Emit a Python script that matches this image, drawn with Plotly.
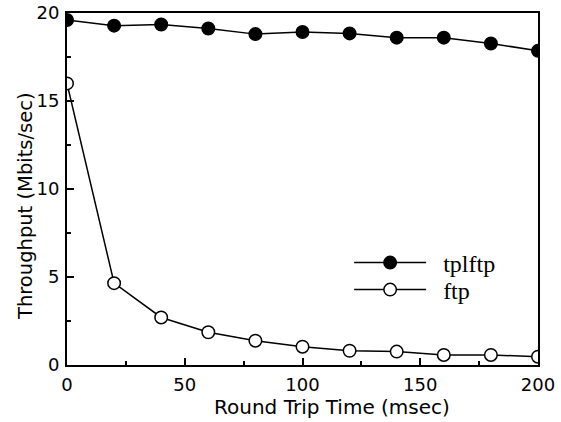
import plotly.graph_objects as go

rtt = [0, 20, 40, 60, 80, 100, 120, 140, 160, 180, 200]
tplftp = [19.6, 19.28, 19.35, 19.12, 18.8, 18.92, 18.84, 18.6, 18.6, 18.27, 17.85]
ftp = [16.0, 4.65, 2.7, 1.86, 1.38, 1.04, 0.81, 0.76, 0.57, 0.57, 0.47]
x_ticks = [0, 50, 100, 150, 200]
y_ticks = [0, 5, 10, 15, 20]

fig = go.Figure()
fig.add_trace(go.Scatter(x=rtt, y=tplftp, name="\u00a0\u00a0tplftp", mode="lines+markers",
                         legend="legend",
                         line=dict(color="black", width=1.5),
                         marker=dict(symbol="circle", size=12.5, color="black",
                                     line=dict(color="black", width=1.5))))
fig.add_trace(go.Scatter(x=rtt, y=ftp, name="\u00a0\u00a0ftp", mode="lines+markers",
                         legend="legend2",
                         line=dict(color="black", width=1.5),
                         marker=dict(symbol="circle", size=12.5, color="white",
                                     line=dict(color="black", width=1.5))))

axis_common = dict(showgrid=False, zeroline=False, showline=True, linecolor="black",
                   linewidth=2, mirror=True, ticks="inside", ticklen=7, tickwidth=1.5,
                   tickcolor="black", automargin=False,
                   tickfont=dict(family="DejaVu Sans", size=18, color="black"))

fig.update_xaxes(range=[0, 200], tickvals=x_ticks, ticklabelstandoff=2,
                 minor=dict(tickvals=[25, 75, 125, 175], ticks="inside", ticklen=4,
                            tickcolor="black", tickwidth=1.5),
                 **axis_common)
fig.update_yaxes(range=[0, 20], tickvals=y_ticks, ticklabelstandoff=2,
                 minor=dict(tickvals=[2.5, 7.5, 12.5, 17.5], ticks="inside", ticklen=4,
                            tickcolor="black", tickwidth=1.5),
                 **axis_common)

fig.add_annotation(text="Round Trip Time (msec)", xref="paper", yref="paper",
                   x=(332 - 67) / 471, y=-(407 - 365) / 352, xanchor="center", yanchor="middle",
                   showarrow=False,
                   font=dict(family="DejaVu Sans", size=20, color="black"))
fig.add_annotation(text="Throughput (Mbits/sec)", xref="paper", yref="paper",
                   x=-(67 - 25) / 471, y=(365 - 206) / 352, xanchor="center", yanchor="middle",
                   textangle=-90, showarrow=False,
                   font=dict(family="DejaVu Sans", size=19.5, color="black"))

legend_common = dict(xanchor="left", yanchor="middle", bgcolor="rgba(0,0,0,0)",
                     itemwidth=72,
                     font=dict(family="Liberation Serif", size=24, color="black"))

fig.update_layout(width=561, height=422,
                  margin=dict(l=67, r=23, t=13, b=57),
                  paper_bgcolor="white", plot_bgcolor="white",
                  legend=dict(x=0.599, y=(365 - 263) / 352, **legend_common),
                  legend2=dict(x=0.599, y=(365 - 290) / 352, **legend_common),
                  showlegend=True)

fig.write_html("out.html", config={"displayModeBar": False},
               post_script="document.body.style.margin='0';document.body.style.padding='0';")
